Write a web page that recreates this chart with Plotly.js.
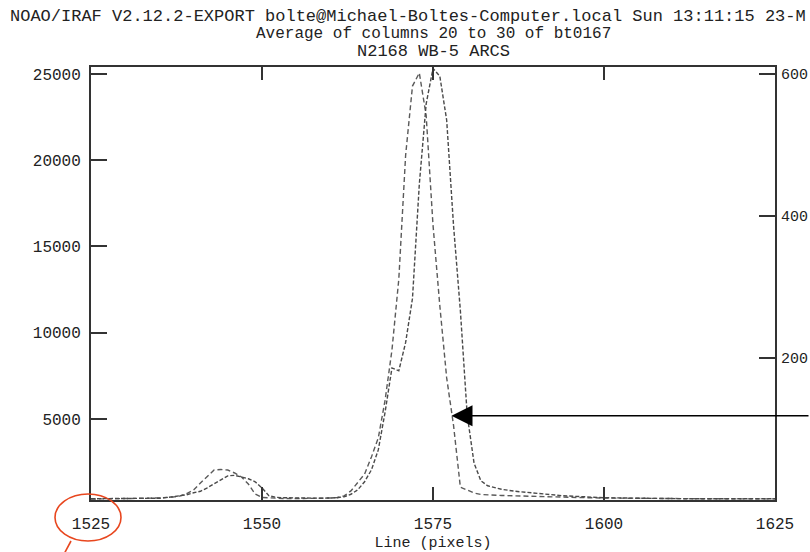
<!DOCTYPE html>
<html>
<head>
<meta charset="utf-8">
<script src="https://cdn.plot.ly/plotly-3.0.1.min.js"></script>
<style>
html,body{margin:0;padding:0;background:#ffffff;}
#chart{width:810px;height:552px;}
</style>
</head>
<body>
<div id="chart"></div>
<script>
// ---- data ----
const titleLines = [
  "NOAO/IRAF V2.12.2-EXPORT bolte@Michael-Boltes-Computer.local Sun 13:11:15 23-M",
  "Average of columns 20 to 30 of bt0167",
  "N2168 WB-5 ARCS"
];
const xAxisTitle = "Line (pixels)";
const xTicks = [1525, 1550, 1575, 1600, 1625];
const yTicks = [5000, 10000, 15000, 20000, 25000];
const y2Ticks = [200, 400, 600];

// spectrum A (left axis)
const linesA = [1525,1528,1531,1533,1535,1537,1538,1539,1540,1541,1542,1543,1544,1545,1546,1547,1548,1549,1550,1551,1553,1556,1559,1560,1561,1562,1563,1564,1565,1566,1567,1568,1569,1570,1571,1572,1573,1574,1575,1576,1577,1578,1579,1580,1581,1582,1583,1585,1588,1590,1593,1596,1600,1605,1610,1615,1620,1625];
const countsA = [360,370,380,391,420,478,536,681,884,1290,1638,2043,2072,2043,1870,1638,1232,652,449,420,395,391,391,420,449,540,830,1290,1810,2800,3900,6100,9000,13100,20300,24300,25060,22600,16250,11550,7380,4640,1050,880,710,623,594,565,536,507,478,449,420,391,380,375,370,370];

// spectrum B (right axis)
const linesB = [1525,1530,1535,1537,1538,1539,1540,1541,1542,1543,1544,1545,1546,1547,1548,1549,1550,1551,1552,1553,1556,1559,1561,1562,1563,1564,1565,1566,1567,1568,1569,1570,1571,1572,1573,1574,1575,1576,1577,1578,1579,1580,1581,1582,1583,1584,1585,1587,1589,1591,1594,1597,1600,1605,1612,1625];
const countsB = [1.8,1.8,2.5,4.6,6,7.4,10.2,12.3,17.2,22.8,28.5,34,34.8,32.7,29.9,25.7,17,6,3.9,3.2,2.5,2.5,3.2,4.6,8.1,14.4,25.7,42.5,70.6,124,186,182,222,284,445,558,608,597,535,387,267,120,52,27,20,17.2,15.1,12.3,10.2,8.1,6,4.6,3.2,2.5,1.8,1.8];

// arrow target (data coords on left axis)
const arrowX = 1577.7;
const arrowY = 5190;

const FONT = "Liberation Mono, DejaVu Sans Mono, monospace";
const INK = "#222222";
const AX = "#333333";
const RED = "#e8461e";

const traces = [
  {x: linesA, y: countsA, type: "scatter", mode: "lines", yaxis: "y",
   line: {color: "#5a5a5a", width: 1.4, dash: "5px,3px"}, hoverinfo: "skip"},
  {x: linesB, y: countsB, type: "scatter", mode: "lines", yaxis: "y2",
   line: {color: "#4a4a4a", width: 1.4, dash: "4px,2px"}, hoverinfo: "skip"}
];

const layout = {
  width: 810, height: 552,
  margin: {l: 91, r: 35, t: 67, b: 52, pad: 0},
  paper_bgcolor: "#ffffff", plot_bgcolor: "#ffffff",
  showlegend: false,
  font: {family: FONT, color: INK, size: 16},
  title: {text: titleLines[0], font: {family: FONT, size: 17, color: INK},
          xref: "container", x: 10/810, xanchor: "left",
          yref: "container", y: 1 - 15/552, yanchor: "middle"},
  xaxis: {range: [1525, 1625], tickvals: xTicks, ticktext: xTicks.map(String),
          ticks: "inside", ticklen: 13, tickwidth: 2, tickcolor: AX,
          showline: true, linewidth: 2, linecolor: AX, mirror: "ticks",
          showgrid: false, zeroline: false, ticklabelstandoff: 8,
          tickfont: {family: FONT, size: 16, color: INK},
          title: {text: xAxisTitle, font: {family: FONT, size: 15, color: INK}, standoff: 4}},
  yaxis: {range: [304, 25405], tickvals: yTicks, tickformat: "d",
          ticks: "inside", ticklen: 16, tickwidth: 2, tickcolor: AX,
          showline: true, linewidth: 2, linecolor: AX, mirror: false,
          showgrid: false, zeroline: false, ticklabelstandoff: 5,
          tickfont: {family: FONT, size: 16, color: INK}},
  yaxis2: {overlaying: "y", side: "right", range: [0, 610], tickvals: y2Ticks,
           ticks: "inside", ticklen: 16, tickwidth: 2, tickcolor: AX,
           showline: true, linewidth: 2, linecolor: AX,
           showgrid: false, zeroline: false, ticklabelstandoff: 1,
           tickfont: {family: FONT, size: 15, color: INK}},
  annotations: [
    {text: titleLines[1], xref: "paper", yref: "paper", x: 0.5, y: 1 + (67-34)/433,
     xanchor: "center", yanchor: "middle", showarrow: false,
     font: {family: FONT, size: 16, color: INK}},
    {text: titleLines[2], xref: "paper", yref: "paper", x: 0.5, y: 1 + (67-51)/433,
     xanchor: "center", yanchor: "middle", showarrow: false,
     font: {family: FONT, size: 17, color: INK}},
    {text: "", x: arrowX, y: arrowY, xref: "x", yref: "y",
     showarrow: true, ax: 362, ay: 0, axref: "pixel", ayref: "pixel",
     arrowhead: 2, arrowsize: 2.8, arrowwidth: 1.5, arrowcolor: "#000000"}
  ],
  shapes: [
    {type: "circle", xref: "paper", yref: "paper",
     x0: (55-91)/684, x1: (121-91)/684, y0: (500-541)/433, y1: (500-494)/433,
     line: {color: RED, width: 1.6}},
    {type: "line", xref: "paper", yref: "paper",
     x0: (71-91)/684, y0: (500-541)/433, x1: (63-91)/684, y1: (500-556)/433,
     line: {color: RED, width: 1.6}}
  ]
};

Plotly.newPlot("chart", traces, layout, {staticPlot: true, displayModeBar: false});
</script>
</body>
</html>
